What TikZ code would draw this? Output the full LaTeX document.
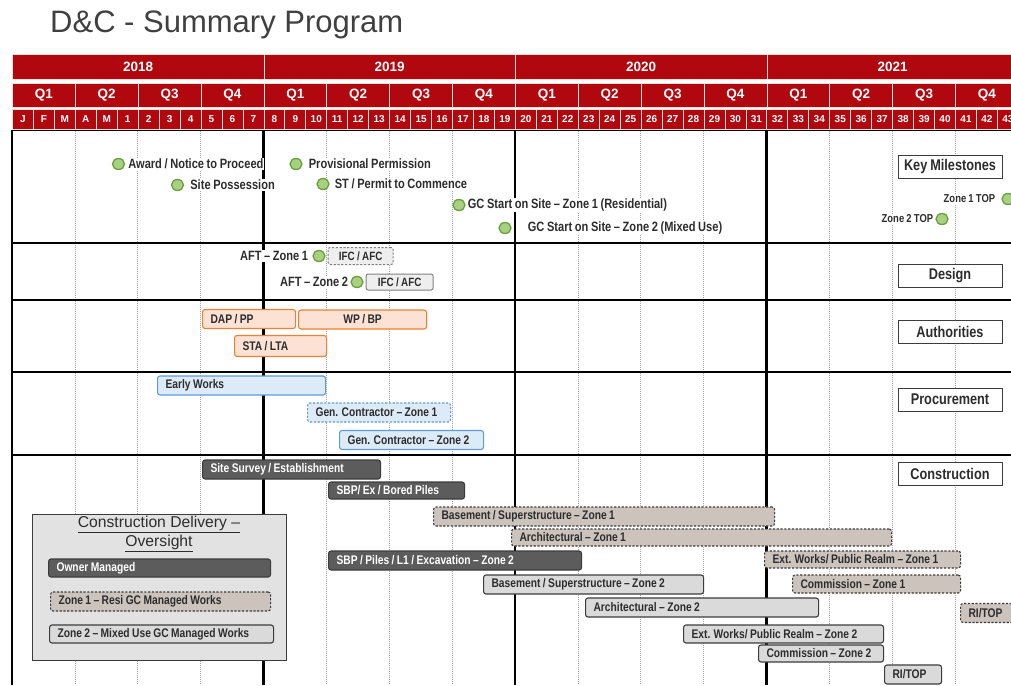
\documentclass[tikz,border=0pt]{standalone}
\usepackage{fontspec}
\setmainfont{Liberation Sans}
\newfontfamily\nrw[FakeStretch=0.82, WordSpace=0.85]{Liberation Sans}
\usetikzlibrary{positioning, shapes.geometric}
\definecolor{hdrred}{RGB}{176,8,14}
\definecolor{hdrline}{RGB}{244,222,214}
\definecolor{inkgrey}{RGB}{45,45,45}
\definecolor{titlegrey}{RGB}{64,64,64}
\definecolor{gridgrey}{RGB}{165,165,165}
\definecolor{msgreen}{RGB}{168,208,128}
\definecolor{msline}{RGB}{104,160,62}
\definecolor{orline}{RGB}{236,128,52}
\definecolor{orfill}{RGB}{251,226,212}
\definecolor{blline}{RGB}{94,156,214}
\definecolor{blfill}{RGB}{221,235,248}
\definecolor{darkfill}{RGB}{92,92,92}
\definecolor{darkline}{RGB}{60,60,60}
\definecolor{zonefill}{RGB}{203,195,188}
\definecolor{lightfill}{RGB}{218,218,218}
\definecolor{legfill}{RGB}{226,226,226}
\definecolor{ifcfill}{RGB}{238,238,238}
\tikzset{
  yrcell/.style={rectangle, anchor=north west, fill=hdrred, draw=hdrline, line width=0.8pt,
    minimum width=251.5pt, minimum height=25pt, inner sep=0pt, text=white,
    font=\bfseries\fontsize{13.5}{14}\selectfont},
  qcell/.style={yrcell, minimum width=62.875pt, minimum height=24pt},
  mcell/.style={yrcell, minimum width=20.958pt, minimum height=20pt,
    font=\bfseries\fontsize{10}{11}\selectfont},
  ms/.style={ellipse, draw=msline, fill=msgreen, line width=1.3pt,
    minimum width=12pt, minimum height=11pt, inner sep=0pt},
  mslab/.style={fill=white, inner sep=1pt, text=inkgrey,
    font=\nrw\bfseries\fontsize{13.5}{14}\selectfont},
  seclab/.style={rectangle, draw=darkline, fill=white, line width=1pt,
    minimum width=104pt, minimum height=23pt, text=inkgrey,
    font=\nrw\bfseries\fontsize{15.5}{16}\selectfont},
  ifcbox/.style={rectangle, rounded corners=2pt, draw=gray, fill=ifcfill, line width=1pt,
    minimum height=18pt, inner sep=0pt, text=inkgrey,
    font=\nrw\bfseries\fontsize{12}{13}\selectfont},
  bar/.style={rectangle, anchor=west, rounded corners=2.5pt, line width=1.1pt,
    minimum height=19pt, inner xsep=8pt, inner ysep=0pt, text width=#1-17,
    align=left, execute at begin node={\spaceskip=0pt\xspaceskip=0pt},
    text=inkgrey, font=\nrw\bfseries\fontsize{12.5}{13}\selectfont},
  orbar/.style={bar=#1, draw=orline, fill=orfill},
  blbar/.style={bar=#1, draw=blline, fill=blfill},
  dkbar/.style={bar=#1, draw=darkline, fill=darkfill, text=white},
  z1bar/.style={bar=#1, draw=darkline, fill=zonefill, dash pattern=on 2.2pt off 1.6pt},
  z2bar/.style={bar=#1, draw=darkline, fill=lightfill}
}

\begin{document}
\begin{tikzpicture}[x=1pt, y=-1pt,
  legbox/.style={rectangle, draw=darkline, fill=legfill, line width=1.2pt,
    minimum width=254pt, minimum height=146pt, inner sep=0pt},
  legtitle/.style={align=center, text=inkgrey, inner sep=0pt,
    font=\fontsize{15.7}{19}\selectfont}]

  \useasboundingbox (0,0) rectangle (1011,685);
  \clip (0,0) rectangle (1011,685);
  \fill[white] (0,0) rectangle (1011,685);

  \node[anchor=base west, inner sep=0pt, text=titlegrey, font=\fontsize{31}{34}\selectfont]
    (title) at (50,33) {D\&C - Summary Program};

  % grid
  \foreach \k in {1,2,3,5,6,7,9,10,11,13,14,15}
    \draw[gridgrey, line width=0.6pt, dash pattern=on 1pt off 1pt]
      ({12+\k*62.875},131) -- ({12+\k*62.875},685);
  \foreach \k in {4,8,12}
    \draw[black, line width=2.6pt] ({12+\k*62.875},131) -- ({12+\k*62.875},685);
  \draw[black, line width=2.2pt] (12,130) -- (12,685);
  \draw[black, line width=1.5pt] (12,130) -- (1011,130);
  \foreach \y in {243,300,372,455}
    \draw[black, line width=1.8pt] (12,\y) -- (1011,\y);

  % header
  \foreach \yr [count=\i from 0] in {2018,...,2021}
    \node[yrcell] (yr\yr) at ({12+\i*251.5},54) {\yr};
  \foreach \q in {0,...,15}{
    \pgfmathtruncatemacro\qn{mod(\q,4)+1}
    \node[qcell] (qtr\q) at ({12+\q*62.875},83) {Q\qn};
  }
  \foreach \m in {0,...,47}{
    \ifnum\m<5 \edef\mlab{\ifcase\m J\or F\or M\or A\or M\fi}\else\edef\mlab{\the\numexpr\m-4\relax}\fi
    \node[mcell] (mon\m) at ({12+\m*20.958},109) {\mlab};
  }

  % section labels
  \node[seclab] (keysec) at (950,166.5) {Key Milestones};
  \node[seclab] (dessec) at (950,275.5) {Design};
  \node[seclab] (autsec) at (950,332) {Authorities};
  \node[seclab] (prosec) at (950,399.5) {Procurement};
  \node[seclab] (consec) at (950,473.5) {Construction};

  % key milestones
  \node[ms] (award) at (118.5,164) {};
  \node[mslab, right=2pt of award] (awardlab) {Award / Notice to Proceed};
  \node[ms] (poss) at (177.5,185) {};
  \node[mslab, right=5pt of poss] (posslab) {Site Possession};
  \node[ms] (prov) at (296,164) {};
  \node[mslab, right=5pt of prov] (provlab) {Provisional Permission};
  \node[ms] (permit) at (323,184) {};
  \node[mslab, right=4pt of permit] (permitlab) {ST / Permit to Commence};
  \node[ms] (gcone) at (459,205) {};
  \node[mslab, right=1pt of gcone] (gconelab) {GC Start on Site – Zone 1 (Residential)};
  \node[ms] (gctwo) at (505,228) {};
  \node[mslab, right=15pt of gctwo] (gctwolab) {GC Start on Site – Zone 2 (Mixed Use)};
  \node[ms] (topone) at (1008,199) {};
  \node[mslab, left=5pt of topone, font=\nrw\bfseries\fontsize{11.5}{12}\selectfont] (toponelab) {Zone 1 TOP};
  \node[ms] (toptwo) at (942,219) {};
  \node[mslab, left=1pt of toptwo, font=\nrw\bfseries\fontsize{11.5}{12}\selectfont] (toptwolab) {Zone 2 TOP};

  % design
  \node[ms] (aftone) at (319,256) {};
  \node[mslab, left=3pt of aftone] (aftonelab) {AFT – Zone 1};
  \node[ifcbox, minimum width=65pt, minimum height=17pt, dash pattern=on 2.2pt off 1.6pt,
    right=2pt of aftone] (ifcone) {IFC / AFC};
  \node[ms] (afttwo) at (357,282) {};
  \node[mslab, left=1pt of afttwo] (afttwolab) {AFT – Zone 2};
  \node[ifcbox, minimum width=67pt, minimum height=16pt, right=2pt of afttwo] (ifctwo) {IFC / AFC};

  % authorities
  \node[orbar=94] (dap) at (202,319) {DAP / PP};
  \node[orbar=128, text width=, minimum width=128pt] (wpbp) at (298,319.5) {WP / BP};
  \node[orbar=93, minimum height=21pt] (stalta) at (234,346) {STA / LTA};

  % procurement
  \node[blbar=169] (early) at (157,385.5) {Early Works};
  \node[blbar=144, dash pattern=on 2.2pt off 1.6pt] (gcz1) at (307,412.5) {Gen. Contractor – Zone 1};
  \node[blbar=145] (gcz2) at (339,440) {Gen. Contractor – Zone 2};

  % construction
  \node[dkbar=179] (survey) at (202,469.5) {Site Survey / Establishment};
  \node[dkbar=137, minimum height=17pt] (sbpone) at (328,490.5) {SBP/ Ex / Bored Piles};
  \node[z1bar=342] (baseone) at (433,516.5) {Basement / Superstructure – Zone 1};
  \node[z1bar=381, minimum height=17pt] (archone) at (511,537.5) {Architectural – Zone 1};
  \node[dkbar=254] (sbptwo) at (328,560.5) {SBP / Piles / L1 / Excavation – Zone 2};
  \node[z1bar=197, minimum height=17pt] (extone) at (764,559.5) {Ext. Works/ Public Realm – Zone 1};
  \node[z2bar=221] (basetwo) at (483,584.5) {Basement / Superstructure – Zone 2};
  \node[z1bar=169, minimum height=18pt] (commone) at (792,584) {Commission – Zone 1};
  \node[z2bar=234] (archtwo) at (585,607.5) {Architectural – Zone 2};
  \node[z1bar=70] (ritopone) at (960,613) {RI/TOP};
  \node[z2bar=201, minimum height=18pt] (exttwo) at (683,634) {Ext. Works/ Public Realm – Zone 2};
  \node[z2bar=126, minimum height=17pt] (commtwo) at (758,653.5) {Commission – Zone 2};
  \node[z2bar=58] (ritoptwo) at (884,674.5) {RI/TOP};

  % legend
  \node[legbox, anchor=north west] (legend) at (32,514) {};
  \node[legtitle] (legtit) at (159,533.5) {\underline{Construction Delivery –}\\\underline{Oversight}};
  \node[dkbar=223, minimum height=18pt] (legown) at (48,568) {Owner Managed};
  \node[z1bar=221] (legzone1) at (50,601.5) {Zone 1 – Resi GC Managed Works};
  \node[z2bar=225, minimum height=18pt] (legzone2) at (49,634) {Zone 2 – Mixed Use GC Managed Works};

\end{tikzpicture}
\end{document}
